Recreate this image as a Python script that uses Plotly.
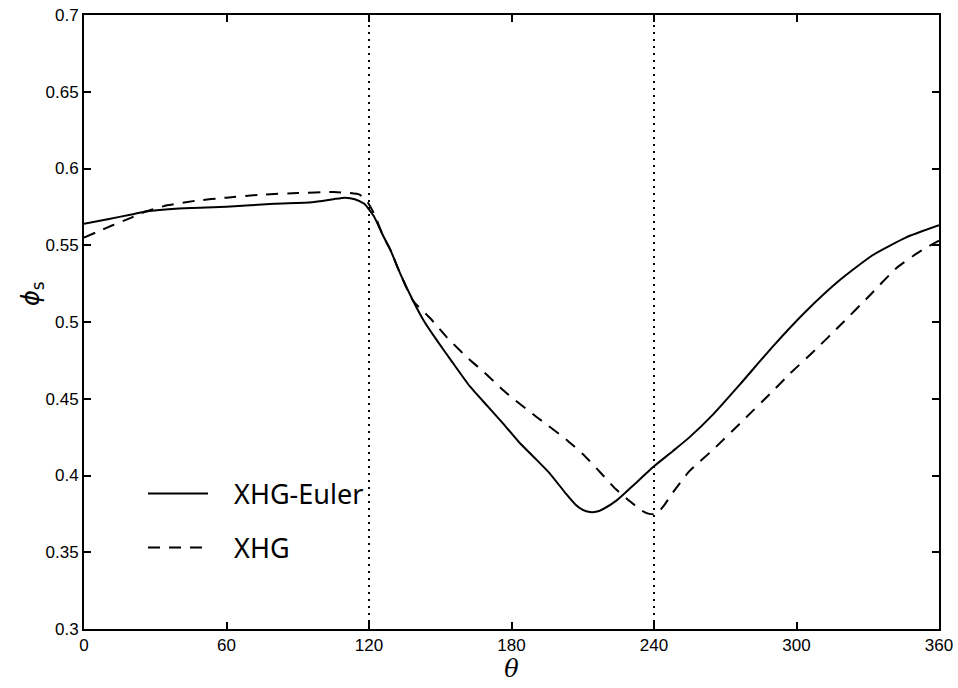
import plotly.graph_objects as go

theta_euler = [0, 10, 20, 26, 40, 60, 80, 96, 105, 110, 114, 118, 122, 126, 129, 133, 138.5, 143,
               148.6, 155, 162.5, 170, 176.4, 183, 190.7, 196, 203, 207, 210, 213, 216, 219, 224,
               227, 233, 240, 248, 255, 265, 276, 290, 304, 318, 332, 346, 360]
phi_euler = [0.564, 0.567, 0.570, 0.572, 0.574, 0.575, 0.577, 0.578, 0.580, 0.581, 0.580, 0.577,
             0.569, 0.556, 0.547, 0.532, 0.514, 0.501, 0.488, 0.474, 0.458, 0.445, 0.434, 0.422,
             0.410, 0.4016, 0.388, 0.381, 0.3776, 0.3762, 0.3765, 0.3785, 0.3835, 0.3875, 0.396,
             0.406, 0.416, 0.425, 0.440, 0.459, 0.484, 0.507, 0.527, 0.5435, 0.555, 0.563]

theta_xhg = [0, 6, 12, 20, 26, 35, 47, 60, 75, 90, 105, 112, 116, 119, 122, 126, 129, 133, 138.5,
             145.7, 152.8, 162.5, 168, 176.4, 180, 190.7, 203.4, 210, 218, 224, 230, 235, 238, 241,
             244, 248, 255, 265, 276, 290, 297, 308, 318.5, 330, 342, 352, 360]
phi_xhg = [0.555, 0.559, 0.563, 0.568, 0.572, 0.576, 0.579, 0.581, 0.583, 0.584, 0.5847, 0.584,
           0.583, 0.579, 0.571, 0.556, 0.547, 0.532, 0.514, 0.5026, 0.490, 0.4752, 0.468, 0.4557,
           0.451, 0.438, 0.423, 0.414, 0.401, 0.391, 0.383, 0.377, 0.375, 0.375, 0.380, 0.389,
           0.403, 0.417, 0.4336, 0.455, 0.466, 0.482, 0.498, 0.516, 0.535, 0.546, 0.553]

x_ticks = [0, 60, 120, 180, 240, 300, 360]
y_ticks = [0.3, 0.35, 0.4, 0.45, 0.5, 0.55, 0.6, 0.65, 0.7]
y_tick_text = ["0.3", "0.35", "0.4", "0.45", "0.5", "0.55", "0.6", "0.65", "0.7"]
divider_thetas = [120, 240]
series_names = ["XHG-Euler", "XHG"]

pad = "\u00a0\u00a0\u00a0"

fig = go.Figure()
fig.add_trace(go.Scatter(x=theta_euler, y=phi_euler, mode="lines", name=pad + series_names[0],
                         line=dict(color="black", width=2, shape="spline", smoothing=0.5),
                         legendgroup="a"))
fig.add_trace(go.Scatter(x=theta_xhg, y=phi_xhg, mode="lines", name=pad + series_names[1],
                         line=dict(color="black", width=2, dash="12px,9px", shape="spline", smoothing=0.5),
                         legendgroup="b"))

for t in divider_thetas:
    fig.add_vline(x=t, line=dict(color="black", width=2, dash="2px,5px"))

axis_common = dict(showline=True, linecolor="black", linewidth=2, mirror="ticks", ticks="inside",
                   ticklen=7, tickwidth=1.5, tickcolor="black", showgrid=False, zeroline=False,
                   automargin=False,
                   tickfont=dict(family="Liberation Sans, Arial", size=17, color="black"))

fig.update_xaxes(range=[0, 360], tickvals=x_ticks, ticktext=[str(v) for v in x_ticks],
                 title=dict(text="<i>θ</i>", font=dict(family="DejaVu Serif", size=24, color="black"),
                            standoff=2),
                 **axis_common)
fig.update_yaxes(range=[0.3, 0.7], tickvals=y_ticks, ticktext=y_tick_text, **axis_common)

fig.add_annotation(text="<i>ϕ</i><sub>s</sub>", xref="paper", yref="paper", x=-0.061, y=0.547,
                   xanchor="center", yanchor="middle", textangle=-90, showarrow=False,
                   font=dict(family="DejaVu Sans", size=24, color="black"))

fig.update_layout(
    width=958, height=688,
    margin=dict(l=84, r=19, t=15, b=59),
    plot_bgcolor="white", paper_bgcolor="white",
    showlegend=True,
    legend=dict(x=0.069, y=0.26, xanchor="left", yanchor="top",
                bgcolor="rgba(0,0,0,0)", borderwidth=0,
                font=dict(family="Noto Sans", size=27, color="black"),
                tracegroupgap=16, traceorder="grouped", itemwidth=60),
)

fig.write_html("out.html")
